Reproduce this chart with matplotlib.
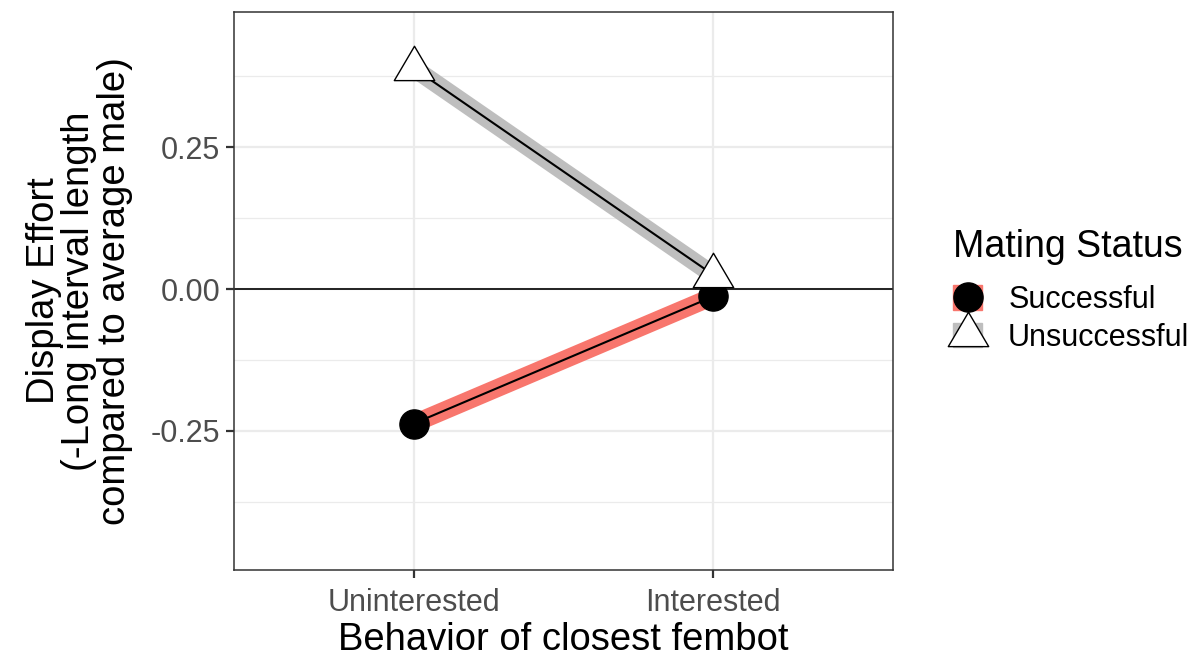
import matplotlib
matplotlib.use("Agg")
import matplotlib.pyplot as plt
from matplotlib.patches import Patch
from matplotlib.lines import Line2D
from matplotlib.path import Path
from matplotlib.legend_handler import HandlerTuple
import numpy as np

plt.rcParams['font.family'] = ['Liberation Sans', 'DejaVu Sans']

# fembot behaviour categories and mean display effort per mating status
behaviors = ["Uninterested", "Interested"]
successful = [-0.237, -0.013]
unsuccessful = [0.389, 0.025]
status_labels = ["Successful", "Unsuccessful"]
status_colors = ["#F8766D", "#BEBEBE"]

yticks = [-0.25, 0.0, 0.25]
yticklabels = ["-0.25", "0.00", "0.25"]

# open triangle like ggplot shape 2
tri = Path([(-1, -0.6), (1, -0.6), (0, 1.1), (-1, -0.6)],
           [Path.MOVETO, Path.LINETO, Path.LINETO, Path.CLOSEPOLY])

fig = plt.figure(figsize=(11.95, 6.59), dpi=100)
ax = fig.add_axes([0.1958, 0.135, 0.7473 - 0.1958, 0.9818 - 0.135])

x = np.arange(1, len(behaviors) + 1)

ax.axhline(0, color="black", lw=1.2, zorder=2)

ax.plot(x, unsuccessful, color=status_colors[1], lw=13, solid_capstyle="butt", zorder=3)
ax.plot(x, unsuccessful, color="black", lw=1.5, zorder=4)
ax.plot(x, successful, color=status_colors[0], lw=13, solid_capstyle="butt", zorder=3)
ax.plot(x, successful, color="black", lw=1.5, zorder=4)

ax.plot(x, successful, ls="none", marker="o", ms=21, mfc="black", mec="black", zorder=5)
ax.plot(x, unsuccessful, ls="none", marker=tri, ms=32, mfc="white", mec="black",
        mew=1.0, zorder=6)

ax.set_xlim(0.4, 2.6)
ax.set_ylim(-0.495, 0.488)
ax.set_xticks(x)
ax.set_xticklabels(behaviors)
ax.set_yticks(yticks)
ax.set_yticklabels(yticklabels)
ax.set_yticks([-0.375, -0.125, 0.125, 0.375], minor=True)

ax.grid(True, which="major", color="#EBEBEB", lw=1.6, zorder=0)
ax.grid(True, which="minor", axis="y", color="#EBEBEB", lw=0.9, zorder=0)
ax.set_axisbelow(True)

for s in ax.spines.values():
    s.set_color("#333333")
    s.set_linewidth(1.1)
ax.tick_params(which="major", length=6, width=1.6, color="#333333",
               labelsize=22, labelcolor="#4D4D4D", pad=4)
ax.tick_params(axis="x", pad=7)
ax.tick_params(which="minor", length=0)

ax.set_xlabel("Behavior of closest fembot", fontsize=27.5, color="black", labelpad=3)
ax.set_ylabel("Display Effort\n(-Long interval length\ncompared to average male)",
              fontsize=27.5, color="black", multialignment="center", labelpad=13,
              linespacing=0.98)

handles = [
    (Patch(color=status_colors[0]), Line2D([], [], ls="none", marker="o", ms=21,
                                           mfc="black", mec="black")),
    (Patch(color=status_colors[1]), Line2D([], [], ls="none", marker=tri, ms=32,
                                           mfc="white", mec="black", mew=1.0)),
]
leg = ax.legend(handles, status_labels, title="Mating Status",
                handler_map={tuple: HandlerTuple(ndivide=1, pad=0)},
                loc="center left", bbox_to_anchor=(1.068, 0.5), frameon=False,
                fontsize=22, title_fontsize=27, handlelength=0.95, handleheight=0.85,
                handletextpad=0.85, labelspacing=0.25, borderpad=0)
leg._legend_box.align = "left"
leg._legend_box.sep = 14  # extra room under the legend title

fig.savefig("out.png", dpi=100)
